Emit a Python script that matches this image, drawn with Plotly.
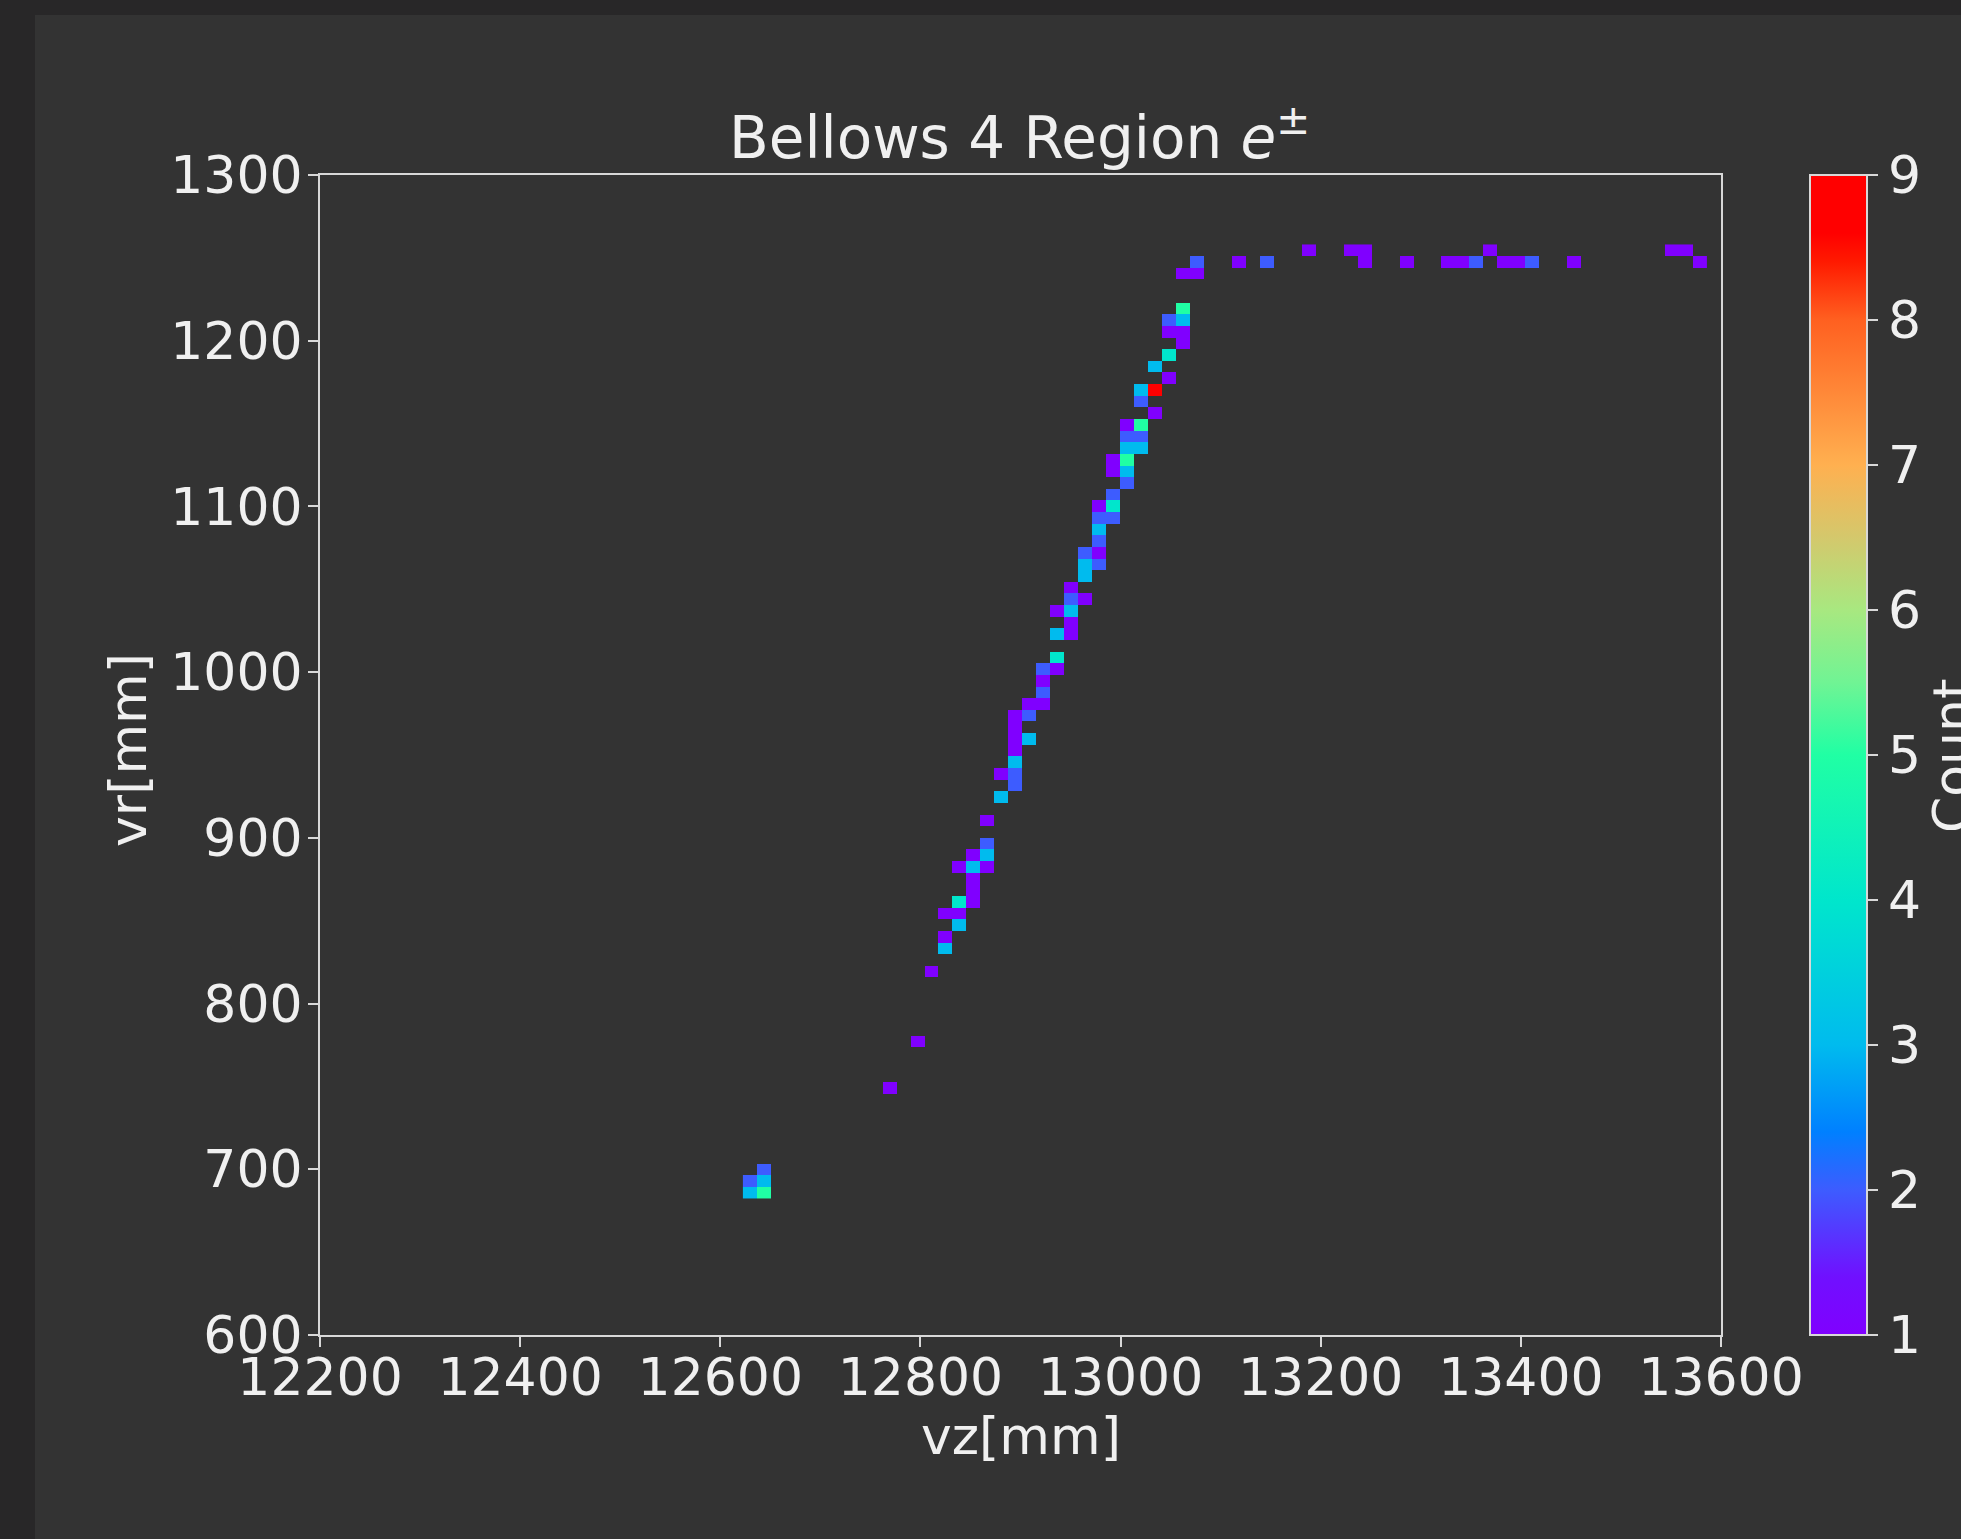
import plotly.graph_objects as go

# ---------------- data ----------------
# histogram bin grid (mm)
VZ_EDGE0 = 12622.6
VZ_BIN = 13.96
N_VZ = 69
VR_EDGE0 = 682.6
VR_BIN = 7.018
N_VR = 82

# occupied bins: vz bin index, vr bin index (from bottom), count
cell_vz_bin = [
    40, 43, 44, 53, 66, 67,
    32, 35, 37, 44, 47, 50, 51, 52, 54, 55, 56, 59, 68,
    31, 32,
    31,
    30, 31,
    30, 31,
    31,
    30,
    29,
    30,
    28, 29,
    28,
    29,
    27, 28,
    27, 28,
    27, 28,
    26, 27,
    26, 27,
    27,
    26,
    25, 26,
    25, 26,
    25,
    25,
    24, 25,
    24, 25,
    24,
    23,
    23, 24,
    22, 23,
    23,
    22, 23,
    22,
    21, 22,
    21,
    21,
    20, 21,
    19, 20,
    19,
    19, 20,
    19,
    19,
    18, 19,
    19,
    18,
    17,
    17,
    16, 17,
    15, 16, 17,
    16,
    16,
    15, 16,
    14, 15,
    15,
    14,
    14,
    13,
    12,
    10,
    1,
    0, 1,
    0, 1,
]
cell_vr_bin = [
    81, 81, 81, 81, 81, 81,
    80, 80, 80, 80, 80, 80, 80, 80, 80, 80, 80, 80, 80,
    79, 79,
    76,
    75, 75,
    74, 74,
    73,
    72,
    71,
    70,
    69, 69,
    68,
    67,
    66, 66,
    65, 65,
    64, 64,
    63, 63,
    62, 62,
    61,
    60,
    59, 59,
    58, 58,
    57,
    56,
    55, 55,
    54, 54,
    53,
    52,
    51, 51,
    50, 50,
    49,
    48, 48,
    46,
    45, 45,
    44,
    43,
    42, 42,
    41, 41,
    40,
    39, 39,
    38,
    37,
    36, 36,
    35,
    34,
    32,
    30,
    29, 29,
    28, 28, 28,
    27,
    26,
    25, 25,
    24, 24,
    23,
    22,
    21,
    19,
    13,
    9,
    2,
    1, 1,
    0, 0,
]
cell_count = [
    1, 1, 1, 1, 1, 1,
    2, 1, 2, 1, 1, 1, 1, 2, 1, 1, 2, 1, 1,
    1, 1,
    5,
    2, 3,
    1, 1,
    1,
    4,
    3,
    1,
    3, 9,
    2,
    1,
    1, 5,
    2, 2,
    3, 3,
    1, 5,
    1, 3,
    2,
    2,
    1, 4,
    2, 2,
    3,
    2,
    2, 1,
    3, 2,
    3,
    1,
    2, 1,
    1, 3,
    1,
    3, 1,
    4,
    2, 1,
    1,
    2,
    1, 1,
    1, 2,
    1,
    1, 3,
    1,
    3,
    1, 2,
    2,
    3,
    1,
    2,
    1, 3,
    1, 3, 1,
    1,
    1,
    4, 1,
    1, 1,
    3,
    1,
    3,
    1,
    1,
    1,
    2,
    2, 3,
    3, 5,
]

x_ticks = [12200, 12400, 12600, 12800, 13000, 13200, 13400, 13600]
y_ticks = [600, 700, 800, 900, 1000, 1100, 1200, 1300]
cb_ticks = [1, 2, 3, 4, 5, 6, 7, 8, 9]

# ---------------- grid for the heatmap ----------------
z = [[None] * N_VZ for _ in range(N_VR)]
for ix, iy, c in zip(cell_vz_bin, cell_vr_bin, cell_count):
    z[iy][ix] = c

rainbow = [
    [0.0, "#8000ff"], [0.05, "#7010ff"], [0.125, "#3d5cff"],
    [0.175, "#0080ff"], [0.25, "#00bbee"], [0.375, "#00e6cc"],
    [0.5, "#20ffa4"], [0.5625, "#70f494"], [0.625, "#a8e880"],
    [0.6875, "#d4c86c"], [0.75, "#ffb050"], [0.8125, "#ff8838"],
    [0.875, "#ff6020"], [0.925, "#ff1a00"], [0.95, "#ff0000"], [1.0, "#ff0000"],
]

W, H = 1961, 1539
L, R, T, B = 320, 240, 175, 204
PW, PH = W - L - R, H - T - B
FONT = "DejaVu Sans"
TXT = "#f0f0f0"
LINE = "#d8d8d8"


def px(xp):
    return (xp - L) / PW


def py(yp):
    return (H - B - yp) / PH


fig = go.Figure(
    go.Heatmap(
        z=z,
        x0=VZ_EDGE0 + VZ_BIN / 2, dx=VZ_BIN,
        y0=VR_EDGE0 + VR_BIN / 2, dy=VR_BIN,
        zmin=1, zmax=9,
        colorscale=rainbow,
        hoverongaps=False,
        colorbar=dict(
            thickness=57, thicknessmode="pixels",
            len=1, lenmode="fraction",
            x=px(1810), xanchor="left", xpad=0,
            y=0.5, yanchor="middle", ypad=0,
            outlinewidth=2, outlinecolor=LINE,
            tickvals=cb_ticks, ticktext=[str(v) for v in cb_ticks],
            ticks="outside", ticklen=10, tickwidth=2,
            tickcolor=LINE,
            tickfont=dict(family=FONT, size=52, color=TXT),
        ),
    )
)

axis_common = dict(
    showgrid=False, zeroline=False,
    showline=True, mirror=True, linecolor=LINE, linewidth=2,
    ticks="outside", ticklen=10, tickwidth=2, tickcolor=LINE,
    tickfont=dict(family=FONT, size=52, color=TXT),
)

fig.update_layout(
    width=W, height=H,
    margin=dict(l=L, r=R, t=T, b=B, pad=0),
    paper_bgcolor="#333333",
    plot_bgcolor="#333333",
    font=dict(family=FONT, color=TXT),
    xaxis=dict(range=[12200, 13600], tickvals=x_ticks,
               ticktext=[str(v) for v in x_ticks], ticklabelstandoff=-14,
               **axis_common),
    yaxis=dict(range=[600, 1300], tickvals=y_ticks,
               ticktext=[str(v) for v in y_ticks], ticklabelstandoff=-5,
               **axis_common),
    showlegend=False,
    shapes=[
        dict(type="rect", xref="paper", yref="paper", x0=px(-10), x1=px(W + 10),
             y0=py(15), y1=py(-10), fillcolor="#282728", line_width=0, layer="below"),
        dict(type="rect", xref="paper", yref="paper", x0=px(-10), x1=px(35),
             y0=py(H + 10), y1=py(-10), fillcolor="#282728", line_width=0, layer="below"),
    ],
    annotations=[
        dict(text="Bellows 4 Region <i>e</i><sup>±</sup>", xref="paper", yref="paper",
             x=px(1019), y=py(134), xanchor="center", yanchor="middle", showarrow=False,
             font=dict(family=FONT, size=58, color=TXT)),
        dict(text="vz[mm]", xref="paper", yref="paper",
             x=0.5, y=py(1436), xanchor="center", yanchor="middle", showarrow=False,
             font=dict(family=FONT, size=52, color=TXT)),
        dict(text="vr[mm]", xref="paper", yref="paper", textangle=-90,
             x=px(128), y=py(750), xanchor="center", yanchor="middle", showarrow=False,
             font=dict(family=FONT, size=52, color=TXT)),
        dict(text="Count", xref="paper", yref="paper", textangle=-90,
             x=px(1952), y=py(756), xanchor="center", yanchor="middle", showarrow=False,
             font=dict(family=FONT, size=52, color=TXT)),
    ],
)

fig.write_html("out.html")
